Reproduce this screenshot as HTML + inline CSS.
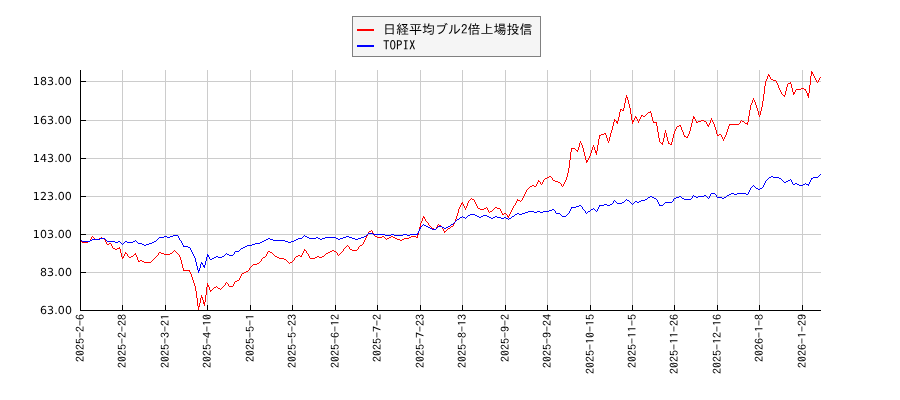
<!DOCTYPE html>
<html lang="ja">
<head>
<meta charset="utf-8">
<title>日経平均ブル2倍上場投信 TOPIX</title>
<style>
html,body{margin:0;padding:0;background:#fff;}
body{width:900px;height:400px;overflow:hidden;}
svg{display:block;will-change:transform;}
text{text-rendering:geometricPrecision;}
.yl{font-family:"DejaVu Sans","Liberation Sans",sans-serif;font-size:11px;fill:#000;text-anchor:end;letter-spacing:0.12px;}
.xl{font-family:"IPAGothic","Liberation Mono","Noto Sans CJK JP",monospace;font-size:12px;fill:#000;text-anchor:end;}
.lg{font-family:"IPAGothic","Liberation Sans","Noto Sans CJK JP",sans-serif;font-size:13px;fill:#000;}
</style>
</head>
<body>
<svg width="900" height="400" viewBox="0 0 900 400">
<rect x="0" y="0" width="900" height="400" fill="#ffffff"/>

<g stroke="#cccccc" stroke-width="1" shape-rendering="crispEdges">
<line x1="81" y1="272.5" x2="821" y2="272.5"/>
<line x1="81" y1="234.5" x2="821" y2="234.5"/>
<line x1="81" y1="196.5" x2="821" y2="196.5"/>
<line x1="81" y1="158.5" x2="821" y2="158.5"/>
<line x1="81" y1="120.5" x2="821" y2="120.5"/>
<line x1="81" y1="81.5" x2="821" y2="81.5"/>
<line x1="122.5" y1="70" x2="122.5" y2="310"/>
<line x1="165.5" y1="70" x2="165.5" y2="310"/>
<line x1="207.5" y1="70" x2="207.5" y2="310"/>
<line x1="250.5" y1="70" x2="250.5" y2="310"/>
<line x1="292.5" y1="70" x2="292.5" y2="310"/>
<line x1="335.5" y1="70" x2="335.5" y2="310"/>
<line x1="377.5" y1="70" x2="377.5" y2="310"/>
<line x1="420.5" y1="70" x2="420.5" y2="310"/>
<line x1="462.5" y1="70" x2="462.5" y2="310"/>
<line x1="505.5" y1="70" x2="505.5" y2="310"/>
<line x1="547.5" y1="70" x2="547.5" y2="310"/>
<line x1="590.5" y1="70" x2="590.5" y2="310"/>
<line x1="632.5" y1="70" x2="632.5" y2="310"/>
<line x1="674.5" y1="70" x2="674.5" y2="310"/>
<line x1="717.5" y1="70" x2="717.5" y2="310"/>
<line x1="759.5" y1="70" x2="759.5" y2="310"/>
<line x1="802.5" y1="70" x2="802.5" y2="310"/>
</g>
<path fill="#ff0000" shape-rendering="crispEdges" d="M80 241h1v1h-1zM81 241h1v1h-1zM82 242h1v1h-1zM83 242h1v1h-1zM84 242h1v1h-1zM85 242h1v1h-1zM86 242h1v1h-1zM87 242h1v1h-1zM88 241h1v1h-1zM89 241h1v1h-1zM90 239h1v2h-1zM91 237h1v2h-1zM92 236h1v1h-1zM93 237h1v1h-1zM94 238h1v1h-1zM95 239h1v1h-1zM96 239h1v1h-1zM97 239h1v1h-1zM98 239h1v1h-1zM99 238h1v1h-1zM100 238h1v1h-1zM101 237h1v1h-1zM102 238h1v1h-1zM103 238h1v1h-1zM104 239h1v1h-1zM105 240h1v2h-1zM106 242h1v2h-1zM107 244h1v1h-1zM108 244h1v1h-1zM109 243h1v1h-1zM110 243h1v1h-1zM111 244h1v2h-1zM112 246h1v2h-1zM113 248h1v1h-1zM114 248h1v1h-1zM115 249h1v1h-1zM116 249h1v1h-1zM117 248h1v1h-1zM118 248h1v1h-1zM119 247h1v2h-1zM120 249h1v4h-1zM121 253h1v4h-1zM122 257h1v2h-1zM123 256h1v2h-1zM124 254h1v2h-1zM125 252h1v2h-1zM126 253h1v1h-1zM127 254h1v2h-1zM128 256h1v1h-1zM129 257h1v1h-1zM130 257h1v1h-1zM131 256h1v1h-1zM132 256h1v1h-1zM133 255h1v1h-1zM134 254h1v1h-1zM135 253h1v2h-1zM136 255h1v2h-1zM137 257h1v3h-1zM138 260h1v2h-1zM139 261h1v1h-1zM140 260h1v1h-1zM141 260h1v1h-1zM142 261h1v1h-1zM143 261h1v1h-1zM144 262h1v1h-1zM145 262h1v1h-1zM146 262h1v1h-1zM147 262h1v1h-1zM148 262h1v1h-1zM149 262h1v1h-1zM150 262h1v1h-1zM151 261h1v1h-1zM152 260h1v1h-1zM153 259h1v1h-1zM154 258h1v1h-1zM155 257h1v1h-1zM156 256h1v1h-1zM157 255h1v1h-1zM158 253h1v2h-1zM159 252h1v1h-1zM160 252h1v1h-1zM161 253h1v1h-1zM162 253h1v1h-1zM163 253h1v1h-1zM164 254h1v1h-1zM165 254h1v1h-1zM166 254h1v1h-1zM167 254h1v1h-1zM168 254h1v1h-1zM169 254h1v1h-1zM170 253h1v1h-1zM171 253h1v1h-1zM172 252h1v1h-1zM173 251h1v1h-1zM174 250h1v1h-1zM175 251h1v1h-1zM176 252h1v1h-1zM177 253h1v1h-1zM178 254h1v1h-1zM179 255h1v2h-1zM180 257h1v3h-1zM181 260h1v4h-1zM182 264h1v4h-1zM183 268h1v3h-1zM184 270h1v1h-1zM185 270h1v1h-1zM186 270h1v1h-1zM187 270h1v1h-1zM188 270h1v1h-1zM189 270h1v2h-1zM190 272h1v2h-1zM191 274h1v3h-1zM192 277h1v3h-1zM193 280h1v3h-1zM194 283h1v3h-1zM195 286h1v5h-1zM196 291h1v7h-1zM197 298h1v8h-1zM198 306h1v4h-1zM199 303h1v4h-1zM200 298h1v5h-1zM201 295h1v3h-1zM202 297h1v3h-1zM203 300h1v4h-1zM204 302h1v4h-1zM205 295h1v7h-1zM206 287h1v8h-1zM207 283h1v4h-1zM208 285h1v2h-1zM209 287h1v3h-1zM210 290h1v2h-1zM211 290h1v1h-1zM212 289h1v1h-1zM213 288h1v1h-1zM214 287h1v1h-1zM215 287h1v1h-1zM216 286h1v1h-1zM217 287h1v1h-1zM218 288h1v1h-1zM219 288h1v1h-1zM220 289h1v1h-1zM221 288h1v1h-1zM222 287h1v1h-1zM223 286h1v1h-1zM224 285h1v1h-1zM225 283h1v2h-1zM226 282h1v1h-1zM227 283h1v1h-1zM228 284h1v2h-1zM229 286h1v1h-1zM230 286h1v1h-1zM231 286h1v1h-1zM232 286h1v1h-1zM233 284h1v2h-1zM234 282h1v2h-1zM235 281h1v1h-1zM236 281h1v1h-1zM237 280h1v1h-1zM238 280h1v1h-1zM239 278h1v2h-1zM240 276h1v2h-1zM241 274h1v2h-1zM242 273h1v1h-1zM243 273h1v1h-1zM244 272h1v1h-1zM245 272h1v1h-1zM246 271h1v1h-1zM247 271h1v1h-1zM248 270h1v1h-1zM249 268h1v2h-1zM250 267h1v1h-1zM251 266h1v1h-1zM252 265h1v1h-1zM253 264h1v1h-1zM254 264h1v1h-1zM255 264h1v1h-1zM256 264h1v1h-1zM257 263h1v1h-1zM258 263h1v1h-1zM259 262h1v1h-1zM260 261h1v1h-1zM261 259h1v2h-1zM262 258h1v1h-1zM263 257h1v1h-1zM264 257h1v1h-1zM265 256h1v1h-1zM266 254h1v2h-1zM267 252h1v2h-1zM268 251h1v1h-1zM269 251h1v1h-1zM270 252h1v1h-1zM271 252h1v1h-1zM272 253h1v1h-1zM273 254h1v1h-1zM274 255h1v1h-1zM275 256h1v1h-1zM276 256h1v1h-1zM277 257h1v1h-1zM278 257h1v1h-1zM279 258h1v1h-1zM280 258h1v1h-1zM281 258h1v1h-1zM282 258h1v1h-1zM283 258h1v1h-1zM284 259h1v1h-1zM285 259h1v1h-1zM286 260h1v1h-1zM287 261h1v1h-1zM288 262h1v1h-1zM289 263h1v1h-1zM290 262h1v1h-1zM291 262h1v1h-1zM292 261h1v1h-1zM293 260h1v1h-1zM294 258h1v2h-1zM295 257h1v1h-1zM296 256h1v1h-1zM297 256h1v1h-1zM298 255h1v1h-1zM299 255h1v1h-1zM300 256h1v1h-1zM301 255h1v2h-1zM302 253h1v2h-1zM303 251h1v2h-1zM304 249h1v2h-1zM305 250h1v1h-1zM306 251h1v2h-1zM307 253h1v1h-1zM308 254h1v2h-1zM309 256h1v2h-1zM310 258h1v1h-1zM311 258h1v1h-1zM312 258h1v1h-1zM313 258h1v1h-1zM314 258h1v1h-1zM315 257h1v1h-1zM316 257h1v1h-1zM317 256h1v1h-1zM318 256h1v1h-1zM319 257h1v1h-1zM320 257h1v1h-1zM321 257h1v1h-1zM322 256h1v1h-1zM323 256h1v1h-1zM324 255h1v1h-1zM325 254h1v1h-1zM326 253h1v1h-1zM327 253h1v1h-1zM328 252h1v1h-1zM329 252h1v1h-1zM330 251h1v1h-1zM331 251h1v1h-1zM332 250h1v1h-1zM333 250h1v1h-1zM334 251h1v1h-1zM335 251h1v1h-1zM336 252h1v1h-1zM337 253h1v2h-1zM338 255h1v1h-1zM339 254h1v1h-1zM340 253h1v1h-1zM341 252h1v1h-1zM342 251h1v1h-1zM343 249h1v2h-1zM344 248h1v1h-1zM345 247h1v1h-1zM346 246h1v1h-1zM347 245h1v1h-1zM348 246h1v1h-1zM349 247h1v2h-1zM350 249h1v1h-1zM351 249h1v1h-1zM352 250h1v1h-1zM353 250h1v1h-1zM354 250h1v1h-1zM355 250h1v1h-1zM356 250h1v1h-1zM357 249h1v1h-1zM358 247h1v2h-1zM359 246h1v1h-1zM360 245h1v1h-1zM361 245h1v1h-1zM362 244h1v1h-1zM363 242h1v2h-1zM364 240h1v2h-1zM365 238h1v2h-1zM366 236h1v2h-1zM367 234h1v2h-1zM368 232h1v2h-1zM369 231h1v1h-1zM370 231h1v1h-1zM371 230h1v1h-1zM372 231h1v2h-1zM373 233h1v2h-1zM374 235h1v1h-1zM375 236h1v1h-1zM376 236h1v1h-1zM377 237h1v1h-1zM378 237h1v1h-1zM379 237h1v1h-1zM380 237h1v1h-1zM381 237h1v1h-1zM382 236h1v1h-1zM383 236h1v1h-1zM384 237h1v1h-1zM385 238h1v1h-1zM386 239h1v1h-1zM387 238h1v1h-1zM388 238h1v1h-1zM389 237h1v1h-1zM390 237h1v1h-1zM391 236h1v1h-1zM392 236h1v1h-1zM393 237h1v1h-1zM394 237h1v1h-1zM395 238h1v1h-1zM396 238h1v1h-1zM397 239h1v1h-1zM398 239h1v1h-1zM399 239h1v1h-1zM400 240h1v1h-1zM401 240h1v1h-1zM402 239h1v1h-1zM403 239h1v1h-1zM404 238h1v1h-1zM405 238h1v1h-1zM406 238h1v1h-1zM407 238h1v1h-1zM408 238h1v1h-1zM409 237h1v1h-1zM410 237h1v1h-1zM411 236h1v1h-1zM412 236h1v1h-1zM413 236h1v1h-1zM414 236h1v1h-1zM415 236h1v1h-1zM416 237h1v1h-1zM417 235h1v3h-1zM418 231h1v4h-1zM419 227h1v4h-1zM420 223h1v4h-1zM421 221h1v2h-1zM422 218h1v3h-1zM423 216h1v2h-1zM424 217h1v2h-1zM425 219h1v2h-1zM426 221h1v1h-1zM427 222h1v1h-1zM428 223h1v2h-1zM429 225h1v1h-1zM430 226h1v1h-1zM431 227h1v1h-1zM432 228h1v1h-1zM433 228h1v1h-1zM434 229h1v1h-1zM435 229h1v1h-1zM436 227h1v2h-1zM437 225h1v2h-1zM438 224h1v1h-1zM439 225h1v1h-1zM440 225h1v1h-1zM441 226h1v1h-1zM442 227h1v2h-1zM443 229h1v2h-1zM444 231h1v2h-1zM445 231h1v1h-1zM446 230h1v1h-1zM447 229h1v1h-1zM448 228h1v1h-1zM449 228h1v1h-1zM450 227h1v1h-1zM451 226h1v1h-1zM452 226h1v1h-1zM453 224h1v2h-1zM454 222h1v2h-1zM455 219h1v3h-1zM456 216h1v3h-1zM457 213h1v3h-1zM458 209h1v4h-1zM459 207h1v2h-1zM460 205h1v2h-1zM461 203h1v2h-1zM462 202h1v2h-1zM463 204h1v2h-1zM464 206h1v2h-1zM465 208h1v2h-1zM466 206h1v2h-1zM467 203h1v3h-1zM468 201h1v2h-1zM469 200h1v1h-1zM470 199h1v1h-1zM471 198h1v1h-1zM472 199h1v1h-1zM473 199h1v1h-1zM474 200h1v2h-1zM475 202h1v2h-1zM476 204h1v2h-1zM477 206h1v2h-1zM478 208h1v1h-1zM479 208h1v1h-1zM480 209h1v1h-1zM481 209h1v1h-1zM482 209h1v1h-1zM483 209h1v1h-1zM484 208h1v1h-1zM485 208h1v1h-1zM486 207h1v1h-1zM487 208h1v2h-1zM488 210h1v2h-1zM489 212h1v1h-1zM490 211h1v1h-1zM491 211h1v1h-1zM492 210h1v1h-1zM493 209h1v1h-1zM494 208h1v1h-1zM495 207h1v1h-1zM496 207h1v1h-1zM497 208h1v1h-1zM498 208h1v1h-1zM499 208h1v1h-1zM500 209h1v2h-1zM501 211h1v2h-1zM502 213h1v2h-1zM503 214h1v1h-1zM504 213h1v1h-1zM505 213h1v1h-1zM506 214h1v1h-1zM507 215h1v2h-1zM508 216h1v2h-1zM509 214h1v2h-1zM510 212h1v2h-1zM511 210h1v2h-1zM512 208h1v2h-1zM513 206h1v2h-1zM514 205h1v1h-1zM515 203h1v2h-1zM516 201h1v2h-1zM517 199h1v2h-1zM518 200h1v1h-1zM519 200h1v1h-1zM520 201h1v1h-1zM521 200h1v1h-1zM522 198h1v2h-1zM523 196h1v2h-1zM524 194h1v2h-1zM525 192h1v2h-1zM526 190h1v2h-1zM527 189h1v1h-1zM528 188h1v1h-1zM529 187h1v1h-1zM530 186h1v1h-1zM531 186h1v1h-1zM532 185h1v1h-1zM533 185h1v1h-1zM534 186h1v1h-1zM535 186h1v1h-1zM536 184h1v2h-1zM537 182h1v2h-1zM538 180h1v2h-1zM539 181h1v1h-1zM540 182h1v2h-1zM541 184h1v1h-1zM542 182h1v2h-1zM543 180h1v2h-1zM544 179h1v1h-1zM545 178h1v1h-1zM546 178h1v1h-1zM547 177h1v1h-1zM548 177h1v1h-1zM549 176h1v1h-1zM550 176h1v1h-1zM551 177h1v1h-1zM552 178h1v2h-1zM553 180h1v1h-1zM554 180h1v1h-1zM555 181h1v1h-1zM556 181h1v1h-1zM557 181h1v1h-1zM558 182h1v1h-1zM559 182h1v1h-1zM560 183h1v1h-1zM561 184h1v2h-1zM562 186h1v1h-1zM563 184h1v2h-1zM564 182h1v2h-1zM565 180h1v2h-1zM566 177h1v3h-1zM567 173h1v4h-1zM568 168h1v5h-1zM569 160h1v8h-1zM570 152h1v8h-1zM571 148h1v4h-1zM572 148h1v1h-1zM573 148h1v1h-1zM574 148h1v1h-1zM575 149h1v1h-1zM576 150h1v1h-1zM577 150h1v2h-1zM578 147h1v3h-1zM579 143h1v4h-1zM580 141h1v2h-1zM581 143h1v2h-1zM582 145h1v3h-1zM583 148h1v4h-1zM584 152h1v4h-1zM585 156h1v4h-1zM586 160h1v3h-1zM587 160h1v2h-1zM588 158h1v2h-1zM589 156h1v2h-1zM590 153h1v3h-1zM591 150h1v3h-1zM592 147h1v3h-1zM593 145h1v2h-1zM594 147h1v3h-1zM595 150h1v3h-1zM596 151h1v4h-1zM597 145h1v6h-1zM598 139h1v6h-1zM599 135h1v4h-1zM600 135h1v1h-1zM601 134h1v1h-1zM602 134h1v1h-1zM603 134h1v1h-1zM604 133h1v1h-1zM605 133h1v2h-1zM606 135h1v3h-1zM607 138h1v3h-1zM608 141h1v2h-1zM609 137h1v4h-1zM610 133h1v4h-1zM611 130h1v3h-1zM612 126h1v4h-1zM613 122h1v4h-1zM614 119h1v3h-1zM615 120h1v1h-1zM616 121h1v2h-1zM617 121h1v3h-1zM618 117h1v4h-1zM619 112h1v5h-1zM620 109h1v3h-1zM621 109h1v1h-1zM622 110h1v1h-1zM623 108h1v3h-1zM624 103h1v5h-1zM625 98h1v5h-1zM626 95h1v3h-1zM627 97h1v3h-1zM628 100h1v4h-1zM629 104h1v4h-1zM630 108h1v6h-1zM631 114h1v6h-1zM632 120h1v4h-1zM633 120h1v2h-1zM634 118h1v2h-1zM635 116h1v2h-1zM636 117h1v2h-1zM637 119h1v2h-1zM638 121h1v2h-1zM639 119h1v2h-1zM640 117h1v2h-1zM641 115h1v2h-1zM642 115h1v1h-1zM643 116h1v1h-1zM644 116h1v1h-1zM645 115h1v1h-1zM646 114h1v1h-1zM647 113h1v1h-1zM648 112h1v1h-1zM649 112h1v1h-1zM650 111h1v2h-1zM651 113h1v4h-1zM652 117h1v4h-1zM653 121h1v2h-1zM654 122h1v1h-1zM655 122h1v1h-1zM656 122h1v4h-1zM657 126h1v6h-1zM658 132h1v6h-1zM659 138h1v4h-1zM660 142h1v1h-1zM661 143h1v1h-1zM662 142h1v3h-1zM663 138h1v4h-1zM664 133h1v5h-1zM665 130h1v3h-1zM666 133h1v4h-1zM667 137h1v4h-1zM668 141h1v3h-1zM669 143h1v1h-1zM670 144h1v1h-1zM671 142h1v3h-1zM672 138h1v4h-1zM673 134h1v4h-1zM674 131h1v3h-1zM675 129h1v2h-1zM676 127h1v2h-1zM677 126h1v1h-1zM678 126h1v1h-1zM679 125h1v1h-1zM680 125h1v2h-1zM681 127h1v3h-1zM682 130h1v2h-1zM683 132h1v3h-1zM684 135h1v2h-1zM685 136h1v1h-1zM686 137h1v1h-1zM687 136h1v2h-1zM688 134h1v2h-1zM689 131h1v3h-1zM690 127h1v4h-1zM691 123h1v4h-1zM692 119h1v4h-1zM693 116h1v3h-1zM694 117h1v2h-1zM695 119h1v2h-1zM696 121h1v2h-1zM697 122h1v1h-1zM698 121h1v1h-1zM699 121h1v1h-1zM700 121h1v1h-1zM701 120h1v1h-1zM702 120h1v1h-1zM703 120h1v1h-1zM704 121h1v1h-1zM705 121h1v1h-1zM706 122h1v2h-1zM707 124h1v2h-1zM708 125h1v2h-1zM709 123h1v2h-1zM710 120h1v3h-1zM711 118h1v2h-1zM712 120h1v2h-1zM713 122h1v2h-1zM714 124h1v3h-1zM715 127h1v3h-1zM716 130h1v4h-1zM717 134h1v2h-1zM718 135h1v1h-1zM719 134h1v1h-1zM720 134h1v1h-1zM721 135h1v2h-1zM722 137h1v2h-1zM723 139h1v2h-1zM724 137h1v2h-1zM725 135h1v2h-1zM726 132h1v3h-1zM727 129h1v3h-1zM728 126h1v3h-1zM729 124h1v2h-1zM730 124h1v1h-1zM731 124h1v1h-1zM732 124h1v1h-1zM733 124h1v1h-1zM734 124h1v1h-1zM735 124h1v1h-1zM736 124h1v1h-1zM737 124h1v1h-1zM738 124h1v1h-1zM739 123h1v1h-1zM740 121h1v2h-1zM741 120h1v1h-1zM742 121h1v1h-1zM743 121h1v1h-1zM744 122h1v1h-1zM745 123h1v1h-1zM746 123h1v1h-1zM747 122h1v3h-1zM748 116h1v6h-1zM749 110h1v6h-1zM750 105h1v5h-1zM751 103h1v2h-1zM752 100h1v3h-1zM753 98h1v2h-1zM754 100h1v2h-1zM755 102h1v3h-1zM756 105h1v3h-1zM757 108h1v3h-1zM758 111h1v4h-1zM759 115h1v2h-1zM760 111h1v4h-1zM761 107h1v4h-1zM762 101h1v6h-1zM763 94h1v7h-1zM764 86h1v8h-1zM765 81h1v5h-1zM766 79h1v2h-1zM767 76h1v3h-1zM768 74h1v2h-1zM769 75h1v2h-1zM770 77h1v2h-1zM771 79h1v1h-1zM772 79h1v1h-1zM773 80h1v1h-1zM774 80h1v1h-1zM775 80h1v1h-1zM776 81h1v2h-1zM777 83h1v2h-1zM778 85h1v3h-1zM779 88h1v2h-1zM780 90h1v2h-1zM781 92h1v2h-1zM782 94h1v1h-1zM783 95h1v1h-1zM784 95h1v2h-1zM785 91h1v4h-1zM786 87h1v4h-1zM787 84h1v3h-1zM788 83h1v1h-1zM789 83h1v1h-1zM790 82h1v2h-1zM791 84h1v4h-1zM792 88h1v4h-1zM793 92h1v3h-1zM794 92h1v2h-1zM795 90h1v2h-1zM796 89h1v1h-1zM797 89h1v1h-1zM798 89h1v1h-1zM799 89h1v1h-1zM800 89h1v1h-1zM801 88h1v1h-1zM802 88h1v1h-1zM803 88h1v1h-1zM804 89h1v1h-1zM805 89h1v2h-1zM806 91h1v2h-1zM807 93h1v3h-1zM808 93h1v5h-1zM809 85h1v8h-1zM810 76h1v9h-1zM811 71h1v5h-1zM812 72h1v2h-1zM813 74h1v2h-1zM814 76h1v2h-1zM815 78h1v2h-1zM816 80h1v2h-1zM817 82h1v1h-1zM818 80h1v2h-1zM819 78h1v2h-1zM820 77h1v1h-1z"/>
<path fill="#0000ff" shape-rendering="crispEdges" d="M80 240h1v1h-1zM81 240h1v1h-1zM82 241h1v1h-1zM83 241h1v1h-1zM84 241h1v1h-1zM85 241h1v1h-1zM86 241h1v1h-1zM87 241h1v1h-1zM88 241h1v1h-1zM89 241h1v1h-1zM90 240h1v1h-1zM91 240h1v1h-1zM92 239h1v1h-1zM93 239h1v1h-1zM94 239h1v1h-1zM95 239h1v1h-1zM96 239h1v1h-1zM97 239h1v1h-1zM98 239h1v1h-1zM99 239h1v1h-1zM100 238h1v1h-1zM101 238h1v1h-1zM102 238h1v1h-1zM103 238h1v1h-1zM104 238h1v1h-1zM105 239h1v1h-1zM106 240h1v1h-1zM107 241h1v1h-1zM108 241h1v1h-1zM109 241h1v1h-1zM110 241h1v1h-1zM111 241h1v1h-1zM112 241h1v1h-1zM113 241h1v1h-1zM114 241h1v1h-1zM115 242h1v1h-1zM116 242h1v1h-1zM117 242h1v1h-1zM118 241h1v1h-1zM119 241h1v1h-1zM120 242h1v1h-1zM121 243h1v1h-1zM122 244h1v1h-1zM123 243h1v1h-1zM124 242h1v1h-1zM125 241h1v1h-1zM126 241h1v1h-1zM127 242h1v1h-1zM128 242h1v1h-1zM129 242h1v1h-1zM130 242h1v1h-1zM131 242h1v1h-1zM132 242h1v1h-1zM133 241h1v1h-1zM134 241h1v1h-1zM135 240h1v1h-1zM136 241h1v1h-1zM137 242h1v1h-1zM138 243h1v1h-1zM139 243h1v1h-1zM140 243h1v1h-1zM141 243h1v1h-1zM142 244h1v1h-1zM143 244h1v1h-1zM144 245h1v1h-1zM145 245h1v1h-1zM146 244h1v1h-1zM147 244h1v1h-1zM148 244h1v1h-1zM149 243h1v1h-1zM150 243h1v1h-1zM151 243h1v1h-1zM152 242h1v1h-1zM153 242h1v1h-1zM154 241h1v1h-1zM155 241h1v1h-1zM156 240h1v1h-1zM157 239h1v1h-1zM158 238h1v1h-1zM159 237h1v1h-1zM160 237h1v1h-1zM161 237h1v1h-1zM162 237h1v1h-1zM163 237h1v1h-1zM164 236h1v1h-1zM165 236h1v1h-1zM166 236h1v1h-1zM167 237h1v1h-1zM168 237h1v1h-1zM169 237h1v1h-1zM170 236h1v1h-1zM171 236h1v1h-1zM172 236h1v1h-1zM173 235h1v1h-1zM174 235h1v1h-1zM175 235h1v1h-1zM176 235h1v1h-1zM177 235h1v1h-1zM178 236h1v2h-1zM179 238h1v2h-1zM180 240h1v1h-1zM181 241h1v2h-1zM182 243h1v2h-1zM183 245h1v2h-1zM184 246h1v1h-1zM185 246h1v1h-1zM186 246h1v1h-1zM187 246h1v1h-1zM188 247h1v1h-1zM189 247h1v1h-1zM190 248h1v2h-1zM191 250h1v2h-1zM192 252h1v2h-1zM193 254h1v2h-1zM194 256h1v2h-1zM195 258h1v4h-1zM196 262h1v4h-1zM197 266h1v4h-1zM198 270h1v3h-1zM199 268h1v3h-1zM200 264h1v4h-1zM201 262h1v2h-1zM202 263h1v2h-1zM203 265h1v2h-1zM204 265h1v3h-1zM205 261h1v4h-1zM206 257h1v4h-1zM207 254h1v3h-1zM208 255h1v2h-1zM209 257h1v2h-1zM210 259h1v1h-1zM211 259h1v1h-1zM212 258h1v1h-1zM213 258h1v1h-1zM214 257h1v1h-1zM215 257h1v1h-1zM216 256h1v1h-1zM217 256h1v1h-1zM218 257h1v1h-1zM219 257h1v1h-1zM220 257h1v1h-1zM221 257h1v1h-1zM222 256h1v1h-1zM223 256h1v1h-1zM224 255h1v1h-1zM225 254h1v1h-1zM226 253h1v1h-1zM227 254h1v1h-1zM228 254h1v1h-1zM229 255h1v1h-1zM230 255h1v1h-1zM231 255h1v1h-1zM232 255h1v1h-1zM233 254h1v1h-1zM234 252h1v2h-1zM235 251h1v1h-1zM236 251h1v1h-1zM237 251h1v1h-1zM238 251h1v1h-1zM239 250h1v1h-1zM240 249h1v1h-1zM241 248h1v1h-1zM242 248h1v1h-1zM243 247h1v1h-1zM244 247h1v1h-1zM245 246h1v1h-1zM246 246h1v1h-1zM247 245h1v1h-1zM248 245h1v1h-1zM249 245h1v1h-1zM250 245h1v1h-1zM251 245h1v1h-1zM252 244h1v1h-1zM253 244h1v1h-1zM254 244h1v1h-1zM255 243h1v1h-1zM256 243h1v1h-1zM257 243h1v1h-1zM258 243h1v1h-1zM259 243h1v1h-1zM260 242h1v1h-1zM261 242h1v1h-1zM262 241h1v1h-1zM263 241h1v1h-1zM264 240h1v1h-1zM265 240h1v1h-1zM266 239h1v1h-1zM267 239h1v1h-1zM268 238h1v1h-1zM269 238h1v1h-1zM270 239h1v1h-1zM271 239h1v1h-1zM272 239h1v1h-1zM273 240h1v1h-1zM274 240h1v1h-1zM275 240h1v1h-1zM276 240h1v1h-1zM277 240h1v1h-1zM278 240h1v1h-1zM279 240h1v1h-1zM280 240h1v1h-1zM281 240h1v1h-1zM282 240h1v1h-1zM283 240h1v1h-1zM284 240h1v1h-1zM285 241h1v1h-1zM286 241h1v1h-1zM287 241h1v1h-1zM288 242h1v1h-1zM289 242h1v1h-1zM290 242h1v1h-1zM291 241h1v1h-1zM292 241h1v1h-1zM293 241h1v1h-1zM294 240h1v1h-1zM295 240h1v1h-1zM296 239h1v1h-1zM297 239h1v1h-1zM298 238h1v1h-1zM299 238h1v1h-1zM300 238h1v1h-1zM301 238h1v1h-1zM302 237h1v1h-1zM303 236h1v1h-1zM304 235h1v1h-1zM305 236h1v1h-1zM306 236h1v1h-1zM307 237h1v1h-1zM308 237h1v1h-1zM309 238h1v1h-1zM310 238h1v1h-1zM311 238h1v1h-1zM312 238h1v1h-1zM313 238h1v1h-1zM314 238h1v1h-1zM315 238h1v1h-1zM316 237h1v1h-1zM317 237h1v1h-1zM318 238h1v1h-1zM319 238h1v1h-1zM320 239h1v1h-1zM321 239h1v1h-1zM322 238h1v1h-1zM323 238h1v1h-1zM324 238h1v1h-1zM325 237h1v1h-1zM326 237h1v1h-1zM327 237h1v1h-1zM328 237h1v1h-1zM329 237h1v1h-1zM330 237h1v1h-1zM331 237h1v1h-1zM332 237h1v1h-1zM333 237h1v1h-1zM334 237h1v1h-1zM335 237h1v1h-1zM336 238h1v1h-1zM337 238h1v1h-1zM338 239h1v1h-1zM339 239h1v1h-1zM340 238h1v1h-1zM341 238h1v1h-1zM342 238h1v1h-1zM343 237h1v1h-1zM344 237h1v1h-1zM345 237h1v1h-1zM346 236h1v1h-1zM347 236h1v1h-1zM348 236h1v1h-1zM349 237h1v1h-1zM350 237h1v1h-1zM351 237h1v1h-1zM352 238h1v1h-1zM353 238h1v1h-1zM354 238h1v1h-1zM355 239h1v1h-1zM356 239h1v1h-1zM357 239h1v1h-1zM358 238h1v1h-1zM359 238h1v1h-1zM360 238h1v1h-1zM361 237h1v1h-1zM362 237h1v1h-1zM363 237h1v1h-1zM364 236h1v1h-1zM365 236h1v1h-1zM366 235h1v1h-1zM367 234h1v1h-1zM368 233h1v1h-1zM369 233h1v1h-1zM370 233h1v1h-1zM371 233h1v1h-1zM372 233h1v1h-1zM373 234h1v1h-1zM374 234h1v1h-1zM375 234h1v1h-1zM376 234h1v1h-1zM377 234h1v1h-1zM378 234h1v1h-1zM379 234h1v1h-1zM380 234h1v1h-1zM381 234h1v1h-1zM382 234h1v1h-1zM383 234h1v1h-1zM384 234h1v1h-1zM385 235h1v1h-1zM386 235h1v1h-1zM387 235h1v1h-1zM388 235h1v1h-1zM389 235h1v1h-1zM390 235h1v1h-1zM391 234h1v1h-1zM392 234h1v1h-1zM393 234h1v1h-1zM394 235h1v1h-1zM395 235h1v1h-1zM396 235h1v1h-1zM397 235h1v1h-1zM398 235h1v1h-1zM399 235h1v1h-1zM400 235h1v1h-1zM401 235h1v1h-1zM402 235h1v1h-1zM403 234h1v1h-1zM404 234h1v1h-1zM405 234h1v1h-1zM406 234h1v1h-1zM407 235h1v1h-1zM408 235h1v1h-1zM409 235h1v1h-1zM410 234h1v1h-1zM411 234h1v1h-1zM412 234h1v1h-1zM413 234h1v1h-1zM414 234h1v1h-1zM415 234h1v1h-1zM416 234h1v1h-1zM417 233h1v2h-1zM418 231h1v2h-1zM419 229h1v2h-1zM420 227h1v2h-1zM421 226h1v1h-1zM422 225h1v1h-1zM423 224h1v1h-1zM424 225h1v1h-1zM425 225h1v1h-1zM426 226h1v1h-1zM427 226h1v1h-1zM428 227h1v1h-1zM429 227h1v1h-1zM430 228h1v1h-1zM431 228h1v1h-1zM432 229h1v1h-1zM433 229h1v1h-1zM434 229h1v1h-1zM435 229h1v1h-1zM436 228h1v1h-1zM437 227h1v1h-1zM438 226h1v1h-1zM439 226h1v1h-1zM440 226h1v1h-1zM441 226h1v1h-1zM442 227h1v1h-1zM443 227h1v1h-1zM444 228h1v1h-1zM445 228h1v1h-1zM446 227h1v1h-1zM447 227h1v1h-1zM448 226h1v1h-1zM449 226h1v1h-1zM450 225h1v1h-1zM451 224h1v1h-1zM452 224h1v1h-1zM453 223h1v1h-1zM454 222h1v1h-1zM455 221h1v1h-1zM456 220h1v1h-1zM457 219h1v1h-1zM458 219h1v1h-1zM459 218h1v1h-1zM460 217h1v1h-1zM461 217h1v1h-1zM462 216h1v1h-1zM463 217h1v1h-1zM464 217h1v1h-1zM465 218h1v1h-1zM466 217h1v1h-1zM467 216h1v1h-1zM468 215h1v1h-1zM469 215h1v1h-1zM470 214h1v1h-1zM471 214h1v1h-1zM472 214h1v1h-1zM473 214h1v1h-1zM474 214h1v1h-1zM475 215h1v1h-1zM476 215h1v1h-1zM477 216h1v1h-1zM478 216h1v1h-1zM479 217h1v1h-1zM480 217h1v1h-1zM481 216h1v1h-1zM482 216h1v1h-1zM483 215h1v1h-1zM484 215h1v1h-1zM485 215h1v1h-1zM486 215h1v1h-1zM487 216h1v1h-1zM488 216h1v1h-1zM489 217h1v1h-1zM490 217h1v1h-1zM491 218h1v1h-1zM492 218h1v1h-1zM493 217h1v1h-1zM494 217h1v1h-1zM495 216h1v1h-1zM496 216h1v1h-1zM497 217h1v1h-1zM498 217h1v1h-1zM499 217h1v1h-1zM500 217h1v1h-1zM501 218h1v1h-1zM502 218h1v1h-1zM503 218h1v1h-1zM504 217h1v1h-1zM505 217h1v1h-1zM506 218h1v1h-1zM507 218h1v1h-1zM508 219h1v1h-1zM509 218h1v1h-1zM510 218h1v1h-1zM511 217h1v1h-1zM512 216h1v1h-1zM513 216h1v1h-1zM514 215h1v1h-1zM515 214h1v1h-1zM516 214h1v1h-1zM517 213h1v1h-1zM518 213h1v1h-1zM519 214h1v1h-1zM520 214h1v1h-1zM521 214h1v1h-1zM522 213h1v1h-1zM523 213h1v1h-1zM524 213h1v1h-1zM525 212h1v1h-1zM526 212h1v1h-1zM527 212h1v1h-1zM528 211h1v1h-1zM529 211h1v1h-1zM530 211h1v1h-1zM531 211h1v1h-1zM532 211h1v1h-1zM533 211h1v1h-1zM534 212h1v1h-1zM535 212h1v1h-1zM536 212h1v1h-1zM537 211h1v1h-1zM538 211h1v1h-1zM539 211h1v1h-1zM540 212h1v1h-1zM541 212h1v1h-1zM542 212h1v1h-1zM543 211h1v1h-1zM544 211h1v1h-1zM545 211h1v1h-1zM546 211h1v1h-1zM547 211h1v1h-1zM548 211h1v1h-1zM549 210h1v1h-1zM550 210h1v1h-1zM551 210h1v1h-1zM552 209h1v1h-1zM553 209h1v1h-1zM554 210h1v1h-1zM555 211h1v2h-1zM556 213h1v1h-1zM557 213h1v1h-1zM558 213h1v1h-1zM559 213h1v1h-1zM560 214h1v1h-1zM561 215h1v1h-1zM562 216h1v1h-1zM563 216h1v1h-1zM564 216h1v1h-1zM565 216h1v1h-1zM566 215h1v1h-1zM567 214h1v1h-1zM568 213h1v1h-1zM569 211h1v2h-1zM570 209h1v2h-1zM571 207h1v2h-1zM572 207h1v1h-1zM573 207h1v1h-1zM574 207h1v1h-1zM575 207h1v1h-1zM576 206h1v1h-1zM577 206h1v1h-1zM578 206h1v1h-1zM579 205h1v1h-1zM580 205h1v1h-1zM581 206h1v1h-1zM582 207h1v2h-1zM583 209h1v1h-1zM584 210h1v1h-1zM585 211h1v2h-1zM586 213h1v1h-1zM587 212h1v1h-1zM588 211h1v1h-1zM589 211h1v1h-1zM590 210h1v1h-1zM591 209h1v1h-1zM592 209h1v1h-1zM593 208h1v1h-1zM594 209h1v1h-1zM595 210h1v1h-1zM596 211h1v1h-1zM597 209h1v2h-1zM598 207h1v2h-1zM599 205h1v2h-1zM600 205h1v1h-1zM601 205h1v1h-1zM602 205h1v1h-1zM603 205h1v1h-1zM604 204h1v1h-1zM605 204h1v1h-1zM606 204h1v1h-1zM607 205h1v1h-1zM608 205h1v1h-1zM609 205h1v1h-1zM610 204h1v1h-1zM611 204h1v1h-1zM612 203h1v1h-1zM613 201h1v2h-1zM614 200h1v1h-1zM615 201h1v1h-1zM616 202h1v1h-1zM617 203h1v1h-1zM618 203h1v1h-1zM619 203h1v1h-1zM620 203h1v1h-1zM621 203h1v1h-1zM622 202h1v1h-1zM623 202h1v1h-1zM624 201h1v1h-1zM625 200h1v1h-1zM626 199h1v1h-1zM627 200h1v1h-1zM628 200h1v1h-1zM629 201h1v1h-1zM630 202h1v1h-1zM631 203h1v1h-1zM632 204h1v1h-1zM633 203h1v1h-1zM634 202h1v1h-1zM635 201h1v1h-1zM636 201h1v1h-1zM637 202h1v1h-1zM638 202h1v1h-1zM639 201h1v1h-1zM640 201h1v1h-1zM641 200h1v1h-1zM642 200h1v1h-1zM643 200h1v1h-1zM644 200h1v1h-1zM645 199h1v1h-1zM646 199h1v1h-1zM647 198h1v1h-1zM648 197h1v1h-1zM649 197h1v1h-1zM650 196h1v1h-1zM651 196h1v1h-1zM652 197h1v1h-1zM653 197h1v1h-1zM654 198h1v1h-1zM655 198h1v1h-1zM656 199h1v1h-1zM657 200h1v2h-1zM658 202h1v2h-1zM659 204h1v2h-1zM660 205h1v1h-1zM661 205h1v1h-1zM662 205h1v1h-1zM663 204h1v1h-1zM664 203h1v1h-1zM665 202h1v1h-1zM666 202h1v1h-1zM667 202h1v1h-1zM668 202h1v1h-1zM669 202h1v1h-1zM670 202h1v1h-1zM671 202h1v1h-1zM672 201h1v1h-1zM673 199h1v2h-1zM674 198h1v1h-1zM675 198h1v1h-1zM676 197h1v1h-1zM677 197h1v1h-1zM678 197h1v1h-1zM679 196h1v1h-1zM680 196h1v1h-1zM681 197h1v1h-1zM682 198h1v1h-1zM683 198h1v1h-1zM684 199h1v1h-1zM685 199h1v1h-1zM686 199h1v1h-1zM687 199h1v1h-1zM688 199h1v1h-1zM689 199h1v1h-1zM690 199h1v1h-1zM691 198h1v1h-1zM692 196h1v2h-1zM693 195h1v1h-1zM694 196h1v1h-1zM695 196h1v1h-1zM696 197h1v1h-1zM697 197h1v1h-1zM698 196h1v1h-1zM699 196h1v1h-1zM700 196h1v1h-1zM701 196h1v1h-1zM702 196h1v1h-1zM703 196h1v1h-1zM704 195h1v1h-1zM705 195h1v1h-1zM706 196h1v1h-1zM707 197h1v1h-1zM708 198h1v1h-1zM709 196h1v2h-1zM710 194h1v2h-1zM711 193h1v1h-1zM712 193h1v1h-1zM713 193h1v1h-1zM714 193h1v1h-1zM715 194h1v1h-1zM716 195h1v2h-1zM717 197h1v1h-1zM718 197h1v1h-1zM719 197h1v1h-1zM720 197h1v1h-1zM721 197h1v1h-1zM722 198h1v1h-1zM723 198h1v1h-1zM724 197h1v1h-1zM725 197h1v1h-1zM726 196h1v1h-1zM727 195h1v1h-1zM728 195h1v1h-1zM729 194h1v1h-1zM730 194h1v1h-1zM731 193h1v1h-1zM732 193h1v1h-1zM733 193h1v1h-1zM734 194h1v1h-1zM735 194h1v1h-1zM736 194h1v1h-1zM737 193h1v1h-1zM738 193h1v1h-1zM739 193h1v1h-1zM740 193h1v1h-1zM741 193h1v1h-1zM742 193h1v1h-1zM743 193h1v1h-1zM744 193h1v1h-1zM745 193h1v1h-1zM746 194h1v1h-1zM747 194h1v1h-1zM748 192h1v2h-1zM749 190h1v2h-1zM750 188h1v2h-1zM751 187h1v1h-1zM752 186h1v1h-1zM753 185h1v1h-1zM754 186h1v1h-1zM755 187h1v1h-1zM756 188h1v1h-1zM757 188h1v1h-1zM758 189h1v1h-1zM759 189h1v1h-1zM760 188h1v1h-1zM761 188h1v1h-1zM762 187h1v1h-1zM763 185h1v2h-1zM764 183h1v2h-1zM765 181h1v2h-1zM766 180h1v1h-1zM767 179h1v1h-1zM768 178h1v1h-1zM769 177h1v1h-1zM770 177h1v1h-1zM771 176h1v1h-1zM772 176h1v1h-1zM773 177h1v1h-1zM774 177h1v1h-1zM775 177h1v1h-1zM776 177h1v1h-1zM777 177h1v1h-1zM778 177h1v1h-1zM779 178h1v1h-1zM780 178h1v1h-1zM781 179h1v1h-1zM782 180h1v1h-1zM783 181h1v1h-1zM784 182h1v1h-1zM785 182h1v1h-1zM786 181h1v1h-1zM787 181h1v1h-1zM788 180h1v1h-1zM789 180h1v1h-1zM790 179h1v1h-1zM791 180h1v2h-1zM792 182h1v2h-1zM793 184h1v1h-1zM794 184h1v1h-1zM795 183h1v1h-1zM796 183h1v1h-1zM797 184h1v1h-1zM798 184h1v1h-1zM799 185h1v1h-1zM800 185h1v1h-1zM801 185h1v1h-1zM802 185h1v1h-1zM803 184h1v1h-1zM804 184h1v1h-1zM805 183h1v1h-1zM806 184h1v1h-1zM807 184h1v1h-1zM808 184h1v2h-1zM809 182h1v2h-1zM810 180h1v2h-1zM811 178h1v2h-1zM812 178h1v1h-1zM813 177h1v1h-1zM814 177h1v1h-1zM815 177h1v1h-1zM816 177h1v1h-1zM817 177h1v1h-1zM818 176h1v1h-1zM819 175h1v1h-1zM820 174h1v1h-1z"/>
<g stroke="#000000" stroke-width="1" shape-rendering="crispEdges">
<line x1="80.5" y1="70" x2="80.5" y2="311"/>
<line x1="80" y1="310.5" x2="821" y2="310.5"/>
<line x1="81" y1="272.5" x2="86" y2="272.5"/>
<line x1="81" y1="234.5" x2="86" y2="234.5"/>
<line x1="81" y1="196.5" x2="86" y2="196.5"/>
<line x1="81" y1="158.5" x2="86" y2="158.5"/>
<line x1="81" y1="120.5" x2="86" y2="120.5"/>
<line x1="81" y1="81.5" x2="86" y2="81.5"/>
<line x1="122.5" y1="305" x2="122.5" y2="310"/>
<line x1="165.5" y1="305" x2="165.5" y2="310"/>
<line x1="207.5" y1="305" x2="207.5" y2="310"/>
<line x1="250.5" y1="305" x2="250.5" y2="310"/>
<line x1="292.5" y1="305" x2="292.5" y2="310"/>
<line x1="335.5" y1="305" x2="335.5" y2="310"/>
<line x1="377.5" y1="305" x2="377.5" y2="310"/>
<line x1="420.5" y1="305" x2="420.5" y2="310"/>
<line x1="462.5" y1="305" x2="462.5" y2="310"/>
<line x1="505.5" y1="305" x2="505.5" y2="310"/>
<line x1="547.5" y1="305" x2="547.5" y2="310"/>
<line x1="590.5" y1="305" x2="590.5" y2="310"/>
<line x1="632.5" y1="305" x2="632.5" y2="310"/>
<line x1="674.5" y1="305" x2="674.5" y2="310"/>
<line x1="717.5" y1="305" x2="717.5" y2="310"/>
<line x1="759.5" y1="305" x2="759.5" y2="310"/>
<line x1="802.5" y1="305" x2="802.5" y2="310"/>
</g>
<g class="yl">
<text x="72" y="313.5">63.00</text>
<text x="72" y="275.5">83.00</text>
<text x="72" y="237.5">103.00</text>
<text x="72" y="199.5">123.00</text>
<text x="72" y="161.5">143.00</text>
<text x="72" y="123.5">163.00</text>
<text x="72" y="84.5">183.00</text>
</g>
<g class="xl">
<text transform="translate(84,314) rotate(-90) scale(1,0.9)">2025-2-6</text>
<text transform="translate(126,314) rotate(-90) scale(1,0.9)">2025-2-28</text>
<text transform="translate(169,314) rotate(-90) scale(1,0.9)">2025-3-21</text>
<text transform="translate(211,314) rotate(-90) scale(1,0.9)">2025-4-10</text>
<text transform="translate(254,314) rotate(-90) scale(1,0.9)">2025-5-1</text>
<text transform="translate(296,314) rotate(-90) scale(1,0.9)">2025-5-23</text>
<text transform="translate(339,314) rotate(-90) scale(1,0.9)">2025-6-12</text>
<text transform="translate(381,314) rotate(-90) scale(1,0.9)">2025-7-2</text>
<text transform="translate(424,314) rotate(-90) scale(1,0.9)">2025-7-23</text>
<text transform="translate(466,314) rotate(-90) scale(1,0.9)">2025-8-13</text>
<text transform="translate(509,314) rotate(-90) scale(1,0.9)">2025-9-2</text>
<text transform="translate(551,314) rotate(-90) scale(1,0.9)">2025-9-24</text>
<text transform="translate(594,314) rotate(-90) scale(1,0.9)">2025-10-15</text>
<text transform="translate(636,314) rotate(-90) scale(1,0.9)">2025-11-5</text>
<text transform="translate(678,314) rotate(-90) scale(1,0.9)">2025-11-26</text>
<text transform="translate(721,314) rotate(-90) scale(1,0.9)">2025-12-16</text>
<text transform="translate(763,314) rotate(-90) scale(1,0.9)">2026-1-8</text>
<text transform="translate(806,314) rotate(-90) scale(1,0.9)">2026-1-29</text>
</g>
<rect x="352.5" y="16.5" width="188" height="40" fill="#f5f5f5" stroke="#808080" stroke-width="1" shape-rendering="crispEdges"/>
<line x1="357" y1="30" x2="374" y2="30" stroke="#ff0000" stroke-width="2" shape-rendering="crispEdges"/>
<line x1="357" y1="46" x2="374" y2="46" stroke="#0000ff" stroke-width="2" shape-rendering="crispEdges"/>
<text class="lg" x="383" y="34">日経平均ブル2倍上場投信</text>
<text class="lg" x="383" y="50">TOPIX</text>
</svg>
</body>
</html>
